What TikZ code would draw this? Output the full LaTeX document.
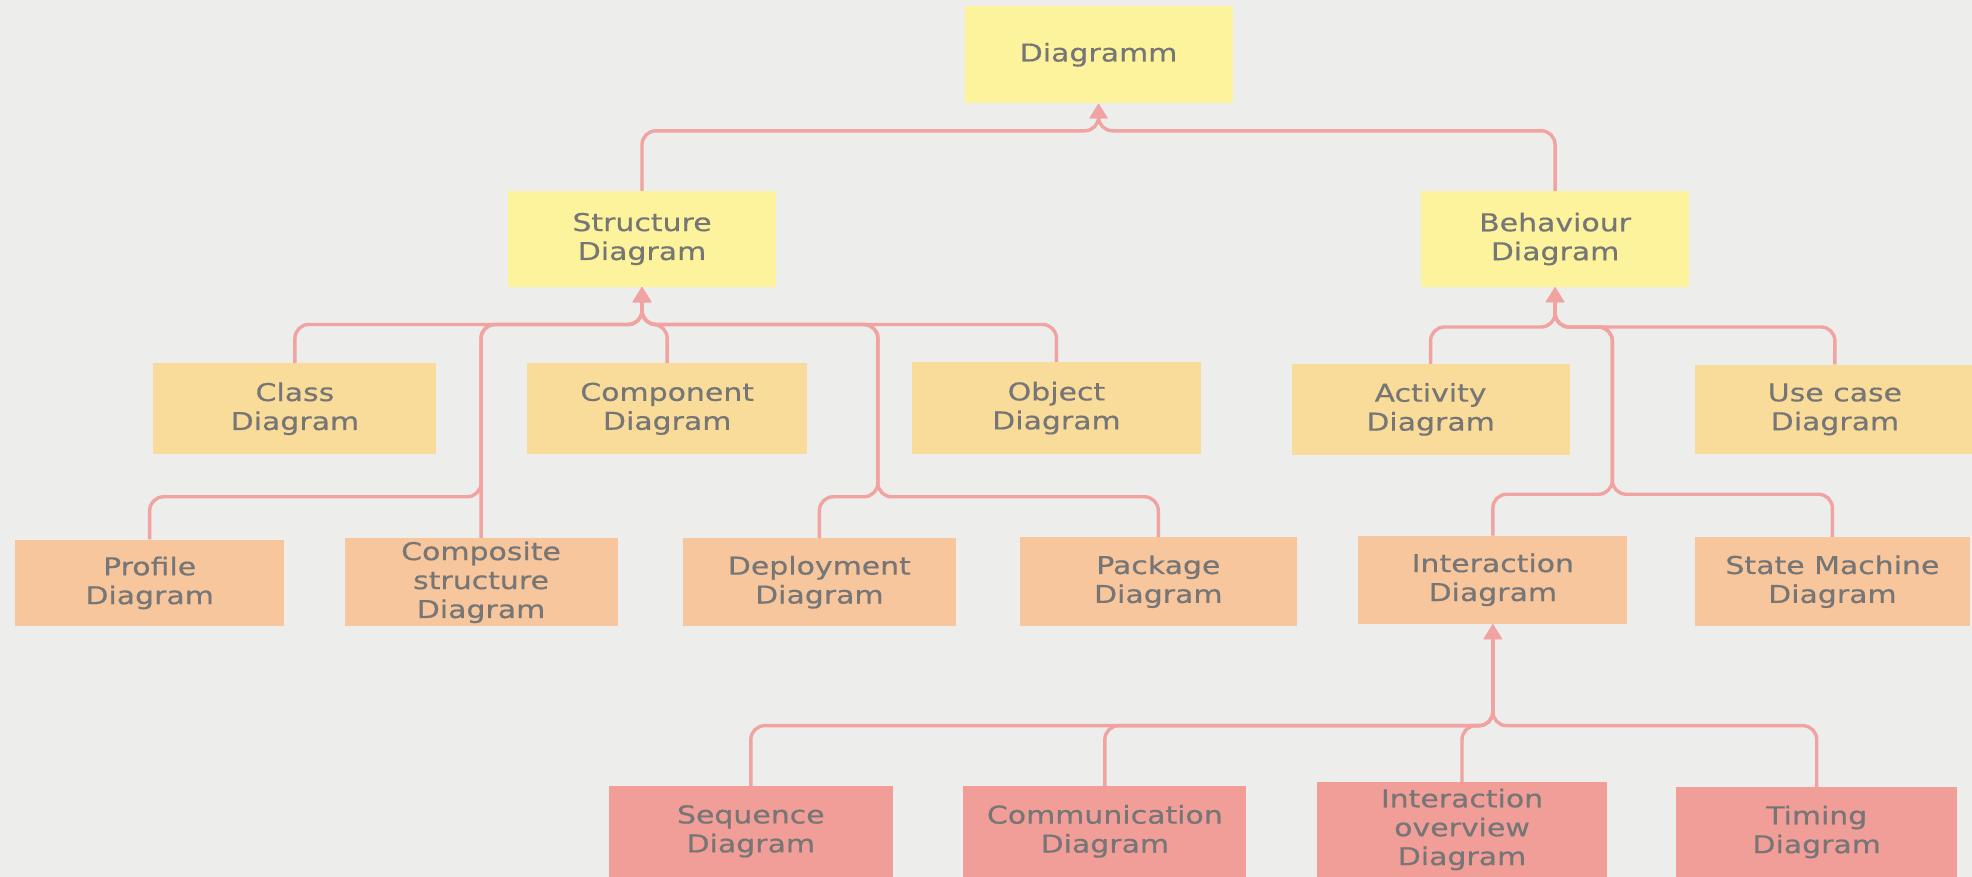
\documentclass[tikz,border=0pt]{standalone}
\usepackage{fontspec}
\setmainfont{DejaVu Sans}[FakeStretch=1.22,FakeBold=0.5]
\usetikzlibrary{arrows.meta}
\definecolor{bg}{HTML}{EDEEEC}
\definecolor{lvA}{HTML}{FDF39C}
\definecolor{lvB}{HTML}{FADC9A}
\definecolor{lvC}{HTML}{F7C69C}
\definecolor{lvD}{HTML}{F29E98}
\definecolor{linec}{HTML}{F0A3A1}
\definecolor{txt}{HTML}{767676}
\tikzset{
  box/.style={rectangle, inner sep=0pt, align=center, text=txt,
    font=\fontsize{19.5}{23}\selectfont},
  boxA/.style={box, fill=lvA},
  boxB/.style={box, fill=lvB},
  boxC/.style={box, fill=lvC},
  boxD/.style={box, fill=lvD},
  conn/.style={draw=linec, line width=2.7pt, rounded corners=11pt,
    -{Triangle[width=14pt,length=12pt]}}
}
\begin{document}
\begin{tikzpicture}[x=1pt,y=-1pt]
\useasboundingbox (0,0) rectangle (1568,697);
\fill[bg] (0,0) rectangle (1568,697);

% root
\node[boxA, minimum width=213pt, minimum height=77pt] (top) at (873.5,43.5) {Diagramm};
% first level
\node[boxA, minimum width=213pt, minimum height=76pt] (sd) at (510.5,190) {Structure\\Diagram};
\node[boxA, minimum width=213pt, minimum height=76pt] (bd) at (1236.5,190) {Behaviour\\Diagram};
% second level
\node[boxB, minimum width=225pt, minimum height=72pt] (cls) at (234.5,325) {Class\\Diagram};
\node[boxB, minimum width=223pt, minimum height=72pt] (cmp) at (530.5,325) {Component\\Diagram};
\node[boxB, minimum width=230pt, minimum height=73pt] (obj) at (840,324.5) {Object\\Diagram};
\node[boxB, minimum width=221pt, minimum height=72pt] (act) at (1137.5,325.5) {Activity\\Diagram};
\node[boxB, minimum width=222pt, minimum height=71pt] (use) at (1459,325.5) {Use case\\Diagram};
% third level
\node[boxC, minimum width=214pt, minimum height=69pt] (prof) at (119,463.5) {Profile\\Diagram};
\node[boxC, minimum width=217pt, minimum height=70pt] (comp) at (382.5,463) {Composite\\structure\\Diagram};
\node[boxC, minimum width=217pt, minimum height=70pt] (dep) at (651.5,463) {Deployment\\Diagram};
\node[boxC, minimum width=220pt, minimum height=71pt] (pkg) at (921,462.5) {Package\\Diagram};
\node[boxC, minimum width=214pt, minimum height=70pt] (inter) at (1187,461) {Interaction\\Diagram};
\node[boxC, minimum width=218pt, minimum height=71pt] (sm) at (1457,462.5) {State Machine\\Diagram};
% fourth level
\node[boxD, minimum width=226pt, minimum height=72pt] (seq) at (597,661) {Sequence\\Diagram};
\node[boxD, minimum width=225pt, minimum height=72pt] (com) at (878.5,661) {Communication\\Diagram};
\node[boxD, minimum width=231pt, minimum height=75pt] (iov) at (1162.5,659.5) {Interaction\\overview\\Diagram};
\node[boxD, minimum width=223pt, minimum height=71pt] (tim) at (1444.5,661.5) {Timing\\Diagram};

% bus points
\coordinate (b0) at (873.5,104);
\coordinate (b1) at (510.5,258);
\coordinate (b2) at (1236.5,260);
\coordinate (b3) at (1187,577);
\coordinate (j1) at (382.5,395);
\coordinate (j2) at (698,395);
\coordinate (j3) at (1282,393);

% generalisation links
\draw[conn] (sd.north) |- (b0) -- (top.south);
\draw[conn] (bd.north) |- (b0) -- (top.south);

\draw[conn] (cls.north) |- (b1) -- (sd.south);
\draw[conn] (cmp.north) |- (b1) -- (sd.south);
\draw[conn] (obj.north) |- (b1) -- (sd.south);
\draw[conn] (comp.north) |- (b1) -- (sd.south);
\draw[conn] (prof.north) |- (j1) |- (b1) -- (sd.south);
\draw[conn] (dep.north) |- (j2) |- (b1) -- (sd.south);
\draw[conn] (pkg.north) |- (j2) |- (b1) -- (sd.south);

\draw[conn] (act.north) |- (b2) -- (bd.south);
\draw[conn] (use.north) |- (b2) -- (bd.south);
\draw[conn] (inter.north) |- (j3) |- (b2) -- (bd.south);
\draw[conn] (sm.north) |- (j3) |- (b2) -- (bd.south);

\draw[conn] (seq.north) |- (b3) -- (inter.south);
\draw[conn] (com.north) |- (b3) -- (inter.south);
\draw[conn] (iov.north) |- (b3) -- (inter.south);
\draw[conn] (tim.north) |- (b3) -- (inter.south);
\end{tikzpicture}
\end{document}
